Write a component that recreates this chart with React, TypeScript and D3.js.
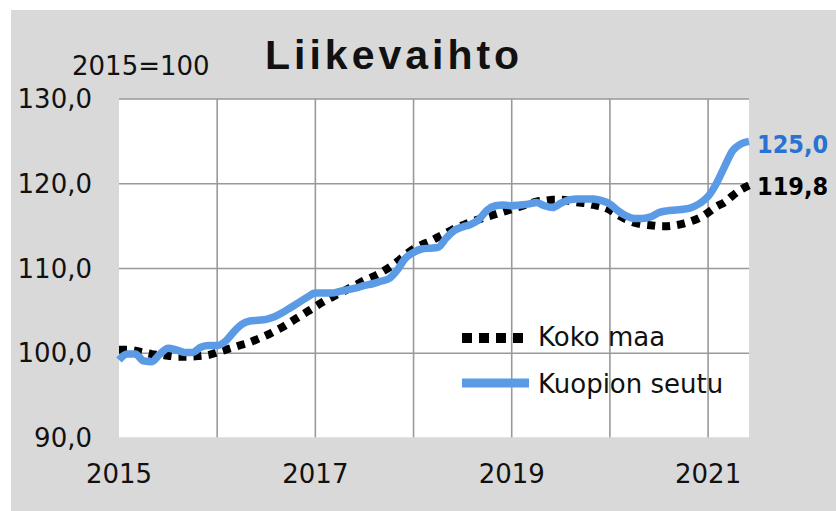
import React from 'react';
import * as d3 from 'd3';

// monthly index, 2015=100, Jan 2015 .. Jun 2021
const kokoMaa = [
  100.4, 100.4, 100.3, 100.1, 99.9, 99.8, 99.7, 99.6, 99.6, 99.6, 99.7, 99.8,
  100.1, 100.4, 100.7, 101.0, 101.3, 101.7, 102.1, 102.6, 103.1, 103.7, 104.3, 104.9,
  105.5, 106.1, 106.6, 107.1, 107.6, 108.1, 108.6, 109.0, 109.5, 110.1, 110.8, 111.6,
  112.3, 112.8, 113.2, 113.7, 114.2, 114.7, 115.1, 115.5, 115.8, 116.1, 116.4, 116.7,
  117.0, 117.3, 117.6, 117.9, 118.0, 118.1, 118.1, 118.0, 117.8, 117.7, 117.5, 117.3,
  116.9, 116.3, 115.8, 115.4, 115.2, 115.1, 115.0, 115.0, 115.1, 115.3, 115.6, 116.0,
  116.6, 117.3, 117.8, 118.6, 119.3, 119.8,
];
const kuopionSeutu = [
  99.2, 99.9, 99.9, 99.1, 99.0, 99.9, 100.6, 100.4, 100.1, 100.1, 100.7, 100.9,
  100.9, 101.4, 102.5, 103.4, 103.8, 103.9, 104.0, 104.3, 104.8, 105.4, 106.0, 106.6,
  107.1, 107.1, 107.1, 107.3, 107.5, 107.7, 108.0, 108.2, 108.5, 108.8, 109.8, 111.2,
  111.9, 112.3, 112.4, 112.5, 113.6, 114.5, 114.9, 115.2, 115.8, 116.9, 117.4, 117.5,
  117.4, 117.5, 117.6, 117.8, 117.4, 117.2, 117.7, 118.1, 118.2, 118.2, 118.2, 118.0,
  117.6, 116.8, 116.2, 115.9, 115.9, 116.1, 116.6, 116.8, 116.9, 117.0, 117.2, 117.7,
  118.5, 120.0, 122.0, 123.9, 124.7, 125.0,
];
const yTicks = [90, 100, 110, 120, 130];
const years = [2015, 2016, 2017, 2018, 2019, 2020, 2021];
const yearLabels = ['2015', '2017', '2019', '2021'];
const seriesNames = ['Koko maa', 'Kuopion seutu'];

const W = 836;
const H = 511;
const left = 119, right = 749, top = 99, bottom = 438;
const blue = '#5b9be6';
const font = "'DejaVu Sans', Verdana, sans-serif";

export default function App() {
  const x = d3.scaleLinear().domain([0, kokoMaa.length - 1]).range([left, right]);
  const y = d3.scaleLinear().domain([90, 130]).range([bottom, top]);
  const line = d3.line<number>()
    .x((_, i) => x(i))
    .y(d => y(d))
    .curve(d3.curveMonotoneX);
  const yearX = (yr: number) => x((yr - 2015) * 12);
  const fmt = (v: number) => d3.format('.1f')(v).replace('.', ',');

  return (
    <svg width={W} height={H} style={{ position: 'fixed', left: 0, top: 0 }} fontFamily={font}>
      <rect x={0} y={0} width={W} height={H} fill="#fff" />
      <rect x={11} y={10} width={W - 11} height={H - 10} fill="#d9d9d9" />
      <rect x={left} y={top} width={right - left} height={bottom - top} fill="#fff" />

      {/* gridlines */}
      {yTicks.filter(t => t > 90).map(t => (
        <line key={t} x1={left} x2={right} y1={y(t)} y2={y(t)} stroke="#999" strokeWidth={1.6} />
      ))}
      {years.filter(yr => yr > 2015).map(yr => (
        <line key={yr} x1={yearX(yr)} x2={yearX(yr)} y1={top} y2={bottom} stroke="#999" strokeWidth={1.6} />
      ))}
      <line x1={left} x2={right} y1={bottom} y2={bottom} stroke="#d5d8e0" strokeWidth={1.5} />

      {/* y labels */}
      {yTicks.map(t => (
        <text key={t} x={92} y={y(t)} dy="0.35em" textAnchor="end" fontSize={26} fill="#111">{fmt(t)}</text>
      ))}
      {/* x labels */}
      {yearLabels.map(l => (
        <text key={l} x={yearX(+l)} y={483} textAnchor="middle" fontSize={26} fill="#111">{l}</text>
      ))}

      <text x={72} y={75} fontSize={26} fill="#111">2015=100</text>
      <text x={265} y={69} fontSize={41} fontWeight="bold" letterSpacing={4}
        fontFamily="'Liberation Sans', Arial, sans-serif" fill="#111">Liikevaihto</text>

      {/* series */}
      <path d={line(kokoMaa) || ''} fill="none" stroke="#000" strokeWidth={8} strokeDasharray="8 7" />
      <path d={line(kuopionSeutu) || ''} fill="none" stroke={blue} strokeWidth={7.5} strokeLinejoin="round" />

      {/* end labels */}
      <text x={757} y={153} fontSize={25} fontWeight="bold" fill="#2a72d2"
        fontFamily="'DejaVu Sans Condensed', 'DejaVu Sans', sans-serif" fontStretch="condensed">
        {fmt(kuopionSeutu[kuopionSeutu.length - 1])}
      </text>
      <text x={757} y={195} fontSize={25} fontWeight="bold" fill="#000"
        fontFamily="'DejaVu Sans Condensed', 'DejaVu Sans', sans-serif" fontStretch="condensed">
        {fmt(kokoMaa[kokoMaa.length - 1])}
      </text>

      {/* legend */}
      <line x1={462} x2={529} y1={338} y2={338} stroke="#000" strokeWidth={10} strokeDasharray="10 7" />
      <text x={538} y={346} fontSize={26} fill="#111">{seriesNames[0]}</text>
      <line x1={462} x2={529} y1={383} y2={383} stroke={blue} strokeWidth={9} />
      <text x={538} y={393} fontSize={26} fill="#111">{seriesNames[1]}</text>
    </svg>
  );
}
